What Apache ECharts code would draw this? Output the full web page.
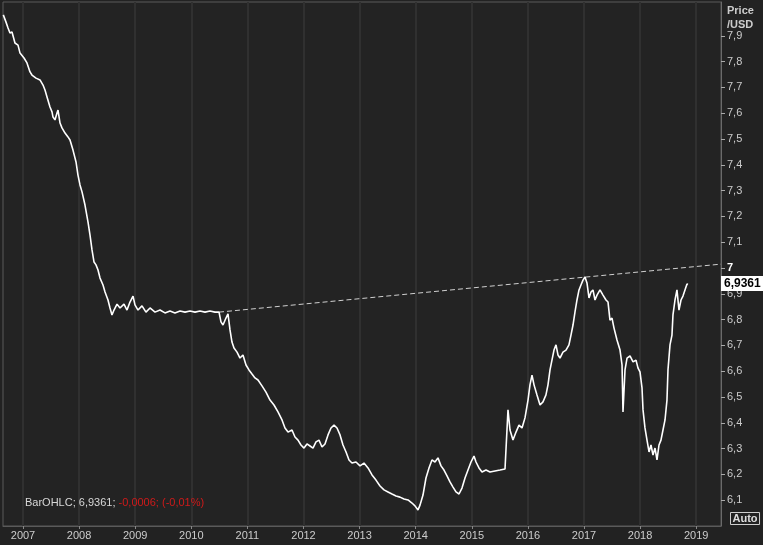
<!DOCTYPE html>
<html>
<head>
<meta charset="utf-8">
<script src="https://cdn.jsdelivr.net/npm/echarts@6/dist/echarts.min.js"></script>
<style>
html,body{margin:0;padding:0;background:#222222;}
#c{width:763px;height:545px;}
</style>
</head>
<body>
<div id="c"></div>
<script>
// Decimal-year dates of readings
var dates = [2006.649,2006.697,2006.733,2006.768,2006.804,2006.857,2006.911,2006.947,2007.018,2007.071,2007.125,2007.160,2007.232,2007.303,2007.357,2007.392,2007.428,2007.481,2007.517,2007.535,2007.570,2007.606,2007.624,2007.660,2007.695,2007.749,2007.802,2007.838,2007.891,2007.945,2007.980,2008.016,2008.052,2008.105,2008.159,2008.194,2008.230,2008.266,2008.301,2008.337,2008.373,2008.426,2008.462,2008.515,2008.551,2008.586,2008.622,2008.676,2008.729,2008.800,2008.854,2008.907,2008.961,2008.996,2009.050,2009.121,2009.192,2009.264,2009.353,2009.442,2009.531,2009.620,2009.709,2009.799,2009.888,2009.977,2010.066,2010.155,2010.244,2010.333,2010.422,2010.494,2010.529,2010.565,2010.618,2010.654,2010.690,2010.725,2010.761,2010.815,2010.868,2010.921,2010.975,2011.028,2011.082,2011.135,2011.189,2011.260,2011.331,2011.403,2011.474,2011.545,2011.617,2011.670,2011.724,2011.795,2011.848,2011.902,2011.955,2012.009,2012.062,2012.116,2012.169,2012.223,2012.276,2012.330,2012.383,2012.437,2012.490,2012.544,2012.597,2012.651,2012.704,2012.758,2012.811,2012.864,2012.936,2013.007,2013.078,2013.150,2013.221,2013.292,2013.364,2013.435,2013.506,2013.577,2013.649,2013.720,2013.791,2013.863,2013.934,2013.987,2014.041,2014.077,2014.130,2014.183,2014.237,2014.290,2014.344,2014.397,2014.451,2014.504,2014.558,2014.611,2014.665,2014.718,2014.772,2014.825,2014.879,2014.932,2014.986,2015.039,2015.075,2015.128,2015.182,2015.253,2015.324,2015.413,2015.503,2015.592,2015.627,2015.645,2015.681,2015.734,2015.788,2015.841,2015.895,2015.948,2016.002,2016.037,2016.073,2016.109,2016.162,2016.216,2016.269,2016.322,2016.358,2016.394,2016.429,2016.465,2016.501,2016.536,2016.572,2016.625,2016.679,2016.732,2016.768,2016.804,2016.839,2016.875,2016.911,2016.946,2016.982,2017.018,2017.053,2017.089,2017.125,2017.160,2017.196,2017.232,2017.285,2017.339,2017.392,2017.428,2017.463,2017.499,2017.535,2017.588,2017.642,2017.678,2017.695,2017.731,2017.767,2017.820,2017.874,2017.927,2017.963,2017.998,2018.034,2018.052,2018.087,2018.123,2018.159,2018.194,2018.230,2018.266,2018.301,2018.337,2018.372,2018.408,2018.444,2018.479,2018.497,2018.533,2018.568,2018.586,2018.622,2018.657,2018.693,2018.729,2018.764,2018.800,2018.836,2018.853];
// USD prices
var closes = [7.981,7.953,7.930,7.911,7.915,7.872,7.864,7.833,7.814,7.795,7.760,7.748,7.736,7.729,7.709,7.690,7.663,7.624,7.605,7.585,7.574,7.601,7.612,7.562,7.543,7.523,7.508,7.496,7.457,7.411,7.360,7.322,7.295,7.244,7.178,7.128,7.070,7.023,7.012,6.992,6.961,6.934,6.907,6.876,6.845,6.818,6.837,6.860,6.845,6.860,6.837,6.868,6.891,6.857,6.837,6.853,6.829,6.845,6.829,6.837,6.826,6.833,6.826,6.833,6.829,6.833,6.829,6.833,6.829,6.833,6.829,6.829,6.791,6.779,6.806,6.822,6.760,6.713,6.690,6.674,6.651,6.663,6.624,6.605,6.589,6.574,6.566,6.543,6.519,6.488,6.469,6.442,6.411,6.380,6.364,6.372,6.345,6.333,6.314,6.302,6.318,6.310,6.302,6.326,6.333,6.306,6.318,6.353,6.380,6.391,6.380,6.353,6.314,6.287,6.256,6.244,6.248,6.233,6.244,6.225,6.198,6.178,6.155,6.140,6.132,6.124,6.116,6.112,6.105,6.101,6.089,6.078,6.062,6.081,6.120,6.186,6.225,6.256,6.248,6.264,6.233,6.217,6.194,6.171,6.151,6.132,6.124,6.147,6.186,6.217,6.248,6.271,6.248,6.225,6.209,6.217,6.209,6.213,6.217,6.221,6.221,6.450,6.372,6.333,6.364,6.391,6.380,6.419,6.488,6.547,6.585,6.547,6.508,6.469,6.481,6.508,6.547,6.605,6.643,6.682,6.702,6.663,6.651,6.674,6.682,6.702,6.740,6.779,6.829,6.876,6.915,6.934,6.953,6.965,6.942,6.884,6.907,6.915,6.876,6.895,6.915,6.895,6.876,6.868,6.798,6.806,6.767,6.721,6.682,6.624,6.442,6.605,6.651,6.659,6.636,6.643,6.612,6.597,6.535,6.450,6.380,6.333,6.287,6.314,6.275,6.302,6.256,6.314,6.333,6.372,6.411,6.488,6.605,6.702,6.740,6.818,6.876,6.915,6.837,6.876,6.891,6.915,6.938,6.9361];
// Trend line (dashed) endpoints
var trendDates = [2010.494, 2019.442];
var trendValues = [6.829, 7.015];
// Axis ticks
var yearTicks = [2007,2008,2009,2010,2011,2012,2013,2014,2015,2016,2017,2018,2019];
var priceTicks = [6.1,6.2,6.3,6.4,6.5,6.6,6.7,6.8,6.9,7.0,7.1,7.2,7.3,7.4,7.5,7.6,7.7,7.8,7.9];
var lastPrice = 6.9361;
var lastChange = -0.0006;
var lastChangePct = -0.01;

var FONT = 'Liberation Sans';
var fmt = function (v, d) { return v.toFixed(d).replace('.', ','); };

var chart = echarts.init(document.getElementById('c'), null, {renderer: 'canvas'});
var priceData = dates.map(function (d, i) { return [d, closes[i]]; });
var trendData = trendDates.map(function (d, i) { return [d, trendValues[i]]; });

chart.setOption({
  backgroundColor: '#222222',
  animation: false,
  grid: {left: 3, right: 42, top: 2, bottom: 19, show: true, borderColor: '#5a5a5a', borderWidth: 1, backgroundColor: '#232323'},
  xAxis: {
    type: 'value', min: 2006.6435, max: 2019.442,
    axisLine: {show: true, lineStyle: {color: '#5a5a5a'}},
    axisTick: {show: true, length: 3, customValues: yearTicks, lineStyle: {color: '#888'}},
    axisLabel: {customValues: yearTicks, color: '#cccccc', fontFamily: FONT, fontSize: 11, margin: 4,
      formatter: function (v) { return String(Math.round(v)); }},
    splitLine: {show: false}
  },
  yAxis: {
    type: 'value', position: 'right', min: 6.0, max: 8.031,
    axisLine: {show: true, lineStyle: {color: '#6a6a6a'}},
    axisTick: {show: true, length: 4, customValues: priceTicks, lineStyle: {color: '#aaa'}},
    axisLabel: {customValues: priceTicks, color: '#cccccc', fontFamily: FONT, fontSize: 11, margin: 6,
      formatter: function (v) {
        if (Math.abs(v - 7) < 1e-6) return '{b|7}';
        return fmt(v, 1);
      },
      rich: {b: {color: '#ffffff', fontWeight: 'bold', fontFamily: FONT, fontSize: 11}}
    },
    splitLine: {show: false}
  },
  series: [
    {
      type: 'line', data: trendData, z: 2, symbol: 'none', silent: true,
      lineStyle: {color: '#d0d0d0', width: 1, type: [5, 3]},
      markLine: {
        z: 1, silent: true, symbol: 'none', label: {show: false},
        lineStyle: {color: '#303030', width: 2, type: 'solid'},
        data: yearTicks.map(function (y) { return {xAxis: y}; })
      }
    },
    {
      type: 'line', data: priceData, z: 3, symbol: 'none', showSymbol: false, silent: true,
      lineStyle: {color: '#ffffff', width: 1.6}
    }
  ]
});

var py = chart.convertToPixel({yAxisIndex: 0}, lastPrice);
chart.setOption({
  graphic: [
    {type: 'text', left: 727, top: 4, z: 10,
      style: {text: 'Price\n/USD', fill: '#cccccc', font: 'bold 11px ' + FONT, lineHeight: 14}},
    {type: 'text', left: 25, top: 497, z: 10,
      style: {text: '{a|BarOHLC; ' + fmt(lastPrice, 4) + '; }{r|' + fmt(lastChange, 4) + '; (' + fmt(lastChangePct, 2) + '%)}',
        rich: {a: {fill: '#d8d8d8', font: '11px ' + FONT}, r: {fill: '#d01a1a', font: '11px ' + FONT}}}},
    {type: 'text', left: 730, top: 512, z: 10,
      style: {text: 'Auto', fill: '#dddddd', font: 'bold 11px ' + FONT, borderColor: '#cfcfcf', borderWidth: 1, padding: [1, 2, 0, 2]}},
    {type: 'text', x: 721, y: Math.round(py) - 8, z: 10,
      style: {text: fmt(lastPrice, 4), fill: '#000000', font: 'bold 12px ' + FONT, backgroundColor: '#ffffff', padding: [2, 3, 1, 3]}}
  ]
});
</script>
</body>
</html>
